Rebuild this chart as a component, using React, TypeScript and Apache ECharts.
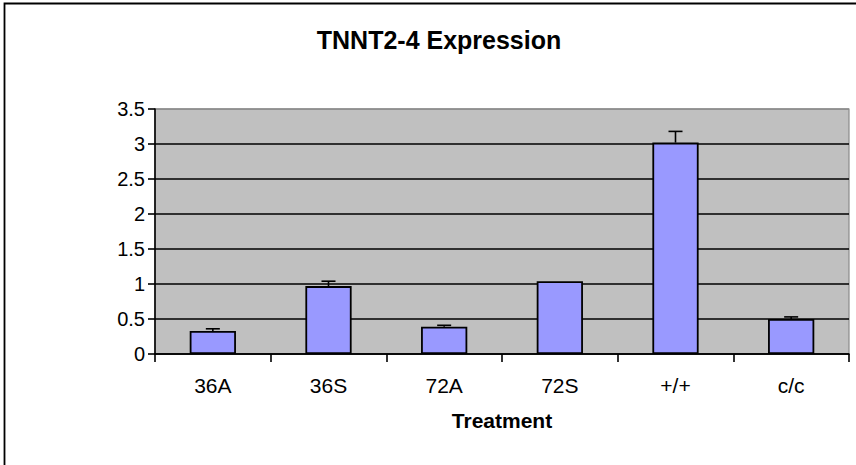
import React, { useEffect, useRef } from "react";
import * as echarts from "echarts";

const categories = ["36A", "36S", "72A", "72S", "+/+", "c/c"];
const meanValues = [0.33, 0.97, 0.39, 1.04, 3.02, 0.5];
const upperValues = [0.36, 1.04, 0.41, 1.04, 3.18, 0.53];
const yTicks = [0, 0.5, 1, 1.5, 2, 2.5, 3, 3.5];
const titleText = "TNNT2-4 Expression";
const xAxisTitle = "Treatment";

const FONT = "'Liberation Sans', Arial, sans-serif";

export default function App() {
  const ref = useRef<HTMLDivElement>(null);
  useEffect(() => {
    if (!ref.current) return;
    const chart = echarts.init(ref.current, null, { renderer: "svg" });
    const errData = categories.map((_, i) => [i, meanValues[i], upperValues[i]]);
    chart.setOption({
      animation: false,
      backgroundColor: "#ffffff",
      title: {
        text: titleText,
        left: 434,
        top: 22,
        textAlign: "center",
        textStyle: { fontFamily: FONT, fontSize: 25, fontWeight: "bold", color: "#000" },
      },
      grid: {
        left: 155,
        right: 7,
        top: 109,
        bottom: 111,
        show: true,
        backgroundColor: "#C0C0C0",
        borderColor: "#8a8a8a",
        borderWidth: 1.2,
      },
      xAxis: {
        type: "category",
        data: categories,
        name: xAxisTitle,
        nameLocation: "middle",
        nameGap: 56,
        nameTextStyle: { fontFamily: FONT, fontSize: 21, fontWeight: "bold", color: "#000" },
        axisLine: { lineStyle: { color: "#000", width: 1.6 } },
        axisTick: { show: true, length: 8, lineStyle: { color: "#000", width: 1.6 } },
        axisLabel: { fontFamily: FONT, fontSize: 21, color: "#000", margin: 21 },
      },
      yAxis: {
        type: "value",
        min: 0,
        max: 3.5,
        interval: 0.5,
        axisLine: { show: true, lineStyle: { color: "#000", width: 1.6 } },
        axisTick: { show: true, length: 7, lineStyle: { color: "#000", width: 1.6 } },
        axisLabel: {
          fontFamily: FONT,
          fontSize: 20,
          color: "#000",
          margin: 10,
          formatter: (v: number) => (yTicks.includes(v) ? String(v) : ""),
        },
        splitLine: {
          show: true,
          lineStyle: {
            color: ["#000", "#000", "#000", "#000", "#000", "#000", "#000", "#8a8a8a"],
            width: 1.7,
          },
        },
      },
      series: [
        {
          type: "bar",
          data: meanValues,
          barWidth: "40%",
          itemStyle: { color: "#9999FF", borderColor: "#000", borderWidth: 1.8 },
          z: 2,
        },
        {
          type: "custom",
          data: errData,
          z: 3,
          renderItem: (params: any, api: any) => {
            const idx = api.value(0);
            if (api.value(2) <= api.value(1)) return { type: "group", children: [] };
            const lo = api.coord([idx, api.value(1)]);
            const hi = api.coord([idx, api.value(2)]);
            const half = 7;
            return {
              type: "group",
              children: [
                {
                  type: "line",
                  shape: { x1: lo[0], y1: lo[1], x2: hi[0], y2: hi[1] },
                  style: { stroke: "#000", lineWidth: 1.6 },
                },
                {
                  type: "line",
                  shape: { x1: hi[0] - half, y1: hi[1], x2: hi[0] + half, y2: hi[1] },
                  style: { stroke: "#000", lineWidth: 1.6 },
                },
              ],
            };
          },
        },
      ],
      graphic: [
        {
          type: "polyline",
          shape: { points: [[4.5, 470], [4.5, 3.5], [860, 3.5]] },
          style: { stroke: "#000", lineWidth: 1.8, fill: "none" },
          silent: true,
        },
      ],
    });
    return () => chart.dispose();
  }, []);
  return (
    <div
      ref={ref}
      style={{ position: "fixed", left: 0, top: 0, width: 856, height: 465 }}
    />
  );
}
